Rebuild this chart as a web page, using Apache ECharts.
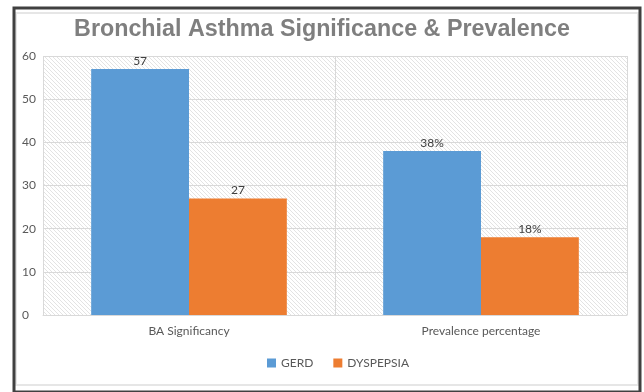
<!DOCTYPE html>
<html>
<head>
<meta charset="utf-8">
<script src="https://cdn.jsdelivr.net/npm/echarts@6/dist/echarts.min.js"></script>
<style>
html,body{margin:0;padding:0;background:#fff;}
#chart{width:644px;height:392px;}
</style>
</head>
<body>
<div id="chart"></div>
<script>
const titleText = 'Bronchial Asthma Significance & Prevalence';
const categories = ['BA Significancy', 'Prevalence percentage'];
const gerdValues = [57, 38];
const dyspepsiaValues = [27, 18];
const gerdLabels = ['57', '38%'];
const dyspepsiaLabels = ['27', '18%'];
const seriesNames = ['GERD', 'DYSPEPSIA'];
const yTicks = [0, 10, 20, 30, 40, 50, 60];

function hatch() {
  const c = document.createElement('canvas');
  c.width = 4; c.height = 4;
  const ctx = c.getContext('2d');
  ctx.fillStyle = '#ffffff';
  ctx.fillRect(0, 0, 4, 4);
  ctx.strokeStyle = '#e3e3e3';
  ctx.lineWidth = 1;
  ctx.beginPath();
  ctx.moveTo(-1, -1); ctx.lineTo(5, 5);
  ctx.moveTo(-1, 3); ctx.lineTo(1, 5);
  ctx.moveTo(3, -1); ctx.lineTo(5, 1);
  ctx.stroke();
  return c;
}

const chart = echarts.init(document.getElementById('chart'), null, {renderer: 'canvas'});
const font = 'Lato, "Open Sans", sans-serif';
chart.setOption({
  animation: false,
  backgroundColor: '#ffffff',
  title: {
    text: titleText,
    left: 'center',
    top: 13,
    textStyle: {fontFamily: '"Liberation Sans", Arial, sans-serif', fontWeight: 'bold', fontSize: 23.3, color: '#7f7f7f'}
  },
  legend: {
    data: seriesNames,
    top: 352,
    left: 262,
    itemWidth: 9,
    itemHeight: 9,
    itemGap: 20,
    icon: 'rect',
    textStyle: {fontFamily: font, fontSize: 12, color: '#595959'}
  },
  grid: {
    left: 43, right: 17, top: 56, bottom: 77,
    show: true,
    borderWidth: 0,
    backgroundColor: {image: hatch(), repeat: 'repeat'}
  },
  xAxis: {
    type: 'category',
    data: categories,
    axisLine: {show: true, lineStyle: {color: '#d9d9d9'}},
    axisTick: {show: false},
    splitLine: {show: true, lineStyle: {color: '#d9d9d9'}},
    axisLabel: {fontFamily: font, fontSize: 12, color: '#595959', margin: 10}
  },
  yAxis: {
    type: 'value',
    min: 0, max: 60, interval: 10,
    axisLine: {show: false},
    axisTick: {show: false},
    splitLine: {show: true, lineStyle: {color: '#d9d9d9'}},
    axisLabel: {fontFamily: font, fontSize: 12, color: '#595959', align: 'left', margin: 21,
      formatter: v => yTicks.includes(v) ? String(v) : ''}
  },
  series: [
    {
      name: seriesNames[0], type: 'bar', data: gerdValues,
      barGap: '0%', barCategoryGap: '33%',
      itemStyle: {color: '#5b9bd5'},
      label: {show: true, position: 'top', distance: 2, fontFamily: font, fontSize: 12, color: '#404040',
        formatter: p => gerdLabels[p.dataIndex]}
    },
    {
      name: seriesNames[1], type: 'bar', data: dyspepsiaValues,
      barGap: '0%', barCategoryGap: '33%',
      itemStyle: {color: '#ed7d31'},
      label: {show: true, position: 'top', distance: 2, fontFamily: font, fontSize: 12, color: '#404040',
        formatter: p => dyspepsiaLabels[p.dataIndex]}
    }
  ],
  graphic: [
    {type: 'rect', silent: true, z: 100, shape: {x: 16, y: 13, width: 622, height: 372},
      style: {fill: null, stroke: '#e6e6e6', lineWidth: 2}},
    {type: 'rect', silent: true, z: 101, shape: {x: 14, y: 8, width: 626, height: 384},
      style: {fill: null, stroke: '#404040', lineWidth: 3}}
  ]
});
</script>
</body>
</html>
